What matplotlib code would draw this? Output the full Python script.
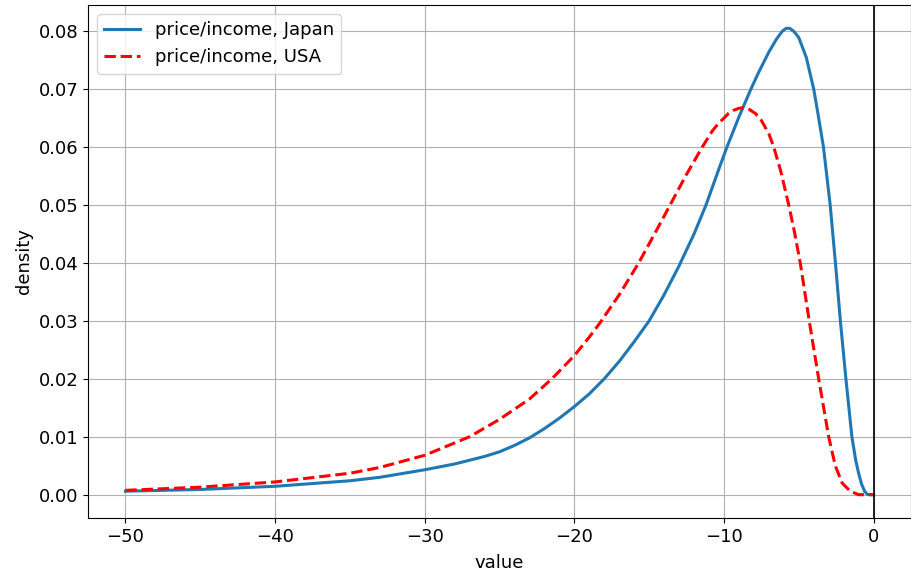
import numpy as np
import matplotlib.pyplot as plt

# ---------- DATA ----------
jp_x = [-50, -45, -40, -35, -33, -30, -28, -26, -25, -24, -23, -22, -21, -20, -19,
        -18, -17, -16, -15, -14, -13, -12, -11.2, -10.3, -9.8, -9, -8.2, -7.7, -7,
        -6.5, -6.1, -5.85, -5.6, -5.3, -5, -4.5, -4.0, -3.7, -3.35, -2.9, -2.55,
        -2.22, -1.85, -1.45, -1.2, -1.0, -0.8, -0.6, -0.44, -0.3, 0]
jp_y = [0.0006, 0.0009, 0.00145, 0.0024, 0.0030, 0.0043, 0.0053, 0.0066, 0.0074,
        0.0085, 0.0098, 0.0114, 0.0132, 0.0152, 0.0174, 0.0200, 0.0230, 0.0264,
        0.0300, 0.0345, 0.0395, 0.0450, 0.0500, 0.0565, 0.0600, 0.0652, 0.0700,
        0.0728, 0.0764, 0.0786, 0.0800, 0.0805, 0.0805, 0.0799, 0.0789, 0.0755,
        0.0700, 0.0655, 0.0600, 0.0500, 0.0400, 0.0300, 0.0200, 0.0100, 0.0060,
        0.0037, 0.0018, 0.0006, 0.0001, 0.0, 0.0]

us_x = [-50, -45, -40, -35, -33, -30, -27, -25, -23, -21.5, -20, -19, -18.3, -17,
        -15.7, -14.6, -13.6, -12.5, -11.45, -10.8, -10.4, -10, -9.7, -9.4, -9.0,
        -8.7, -8.3, -7.9, -7.5, -7.0, -6.67, -6.2, -5.67, -5.3, -4.9, -4.3, -3.67,
        -3.0, -2.56, -2.1, -1.56, -1.0, 0]
us_y = [0.00075, 0.0013, 0.0022, 0.0037, 0.0047, 0.0068, 0.0100, 0.0130, 0.0165,
        0.0200, 0.0240, 0.0272, 0.0296, 0.0345, 0.0400, 0.0452, 0.0500, 0.0553,
        0.0600, 0.0627, 0.0640, 0.0650, 0.0658, 0.0663, 0.0667, 0.0668, 0.0665,
        0.0658, 0.0646, 0.0623, 0.0600, 0.0558, 0.0500, 0.0455, 0.0400, 0.0300,
        0.0200, 0.0100, 0.0050, 0.0020, 0.0006, 0.0, 0.0]

labels = ["price/income, Japan", "price/income, USA"]

# ---------- PLOT ----------
fig = plt.figure(figsize=(9.11, 5.73), dpi=100)
ax = fig.add_axes([88/911, 1-518/573, (911-88)/911, (518-5)/573])

ax.plot(jp_x, jp_y, color="C0", lw=2.2, label=labels[0])
ax.plot(us_x, us_y, "r--", lw=2.2, label=labels[1])
ax.axvline(0, color="k", lw=1.2)
ax.grid(True)
ax.set_xlabel("value", fontsize=13, labelpad=6)
ax.set_ylabel("density", fontsize=13)
ax.tick_params(labelsize=13)
ax.legend(loc="upper left", fontsize=13)

fig.savefig("out.png", dpi=100)
